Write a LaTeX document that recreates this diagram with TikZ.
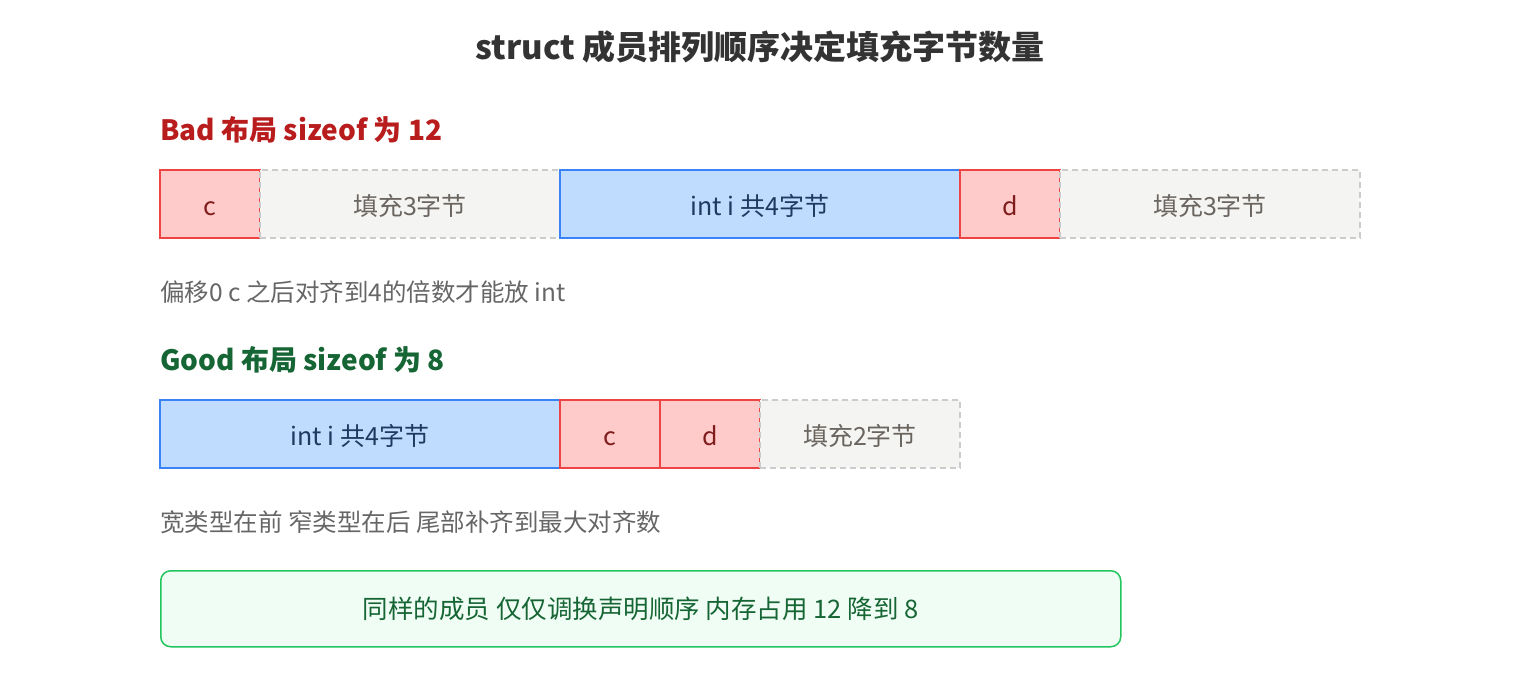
\documentclass[tikz,border=0pt]{standalone}
\usepackage{fontspec}
\setmainfont{Noto Sans CJK SC}
\usetikzlibrary{positioning}
\definecolor{redfill}{HTML}{FECACA}
\definecolor{redline}{HTML}{EF4444}
\definecolor{redtext}{HTML}{7F1D1D}
\definecolor{bluefill}{HTML}{BFDBFE}
\definecolor{blueline}{HTML}{3B82F6}
\definecolor{bluetext}{HTML}{1E3A5F}
\definecolor{padfill}{HTML}{F4F4F2}
\definecolor{padline}{HTML}{CCCCCC}
\definecolor{padtext}{HTML}{6B6560}
\definecolor{badhead}{HTML}{B91C1C}
\definecolor{goodhead}{HTML}{166534}
\definecolor{notefill}{HTML}{F0FDF4}
\definecolor{noteline}{HTML}{22C55E}
\definecolor{greytext}{HTML}{666666}
\tikzset{
  cell/.style={rectangle, minimum height=68pt, outer sep=0pt, inner sep=0pt, text height=24pt, text depth=2pt, line width=1.5pt, font=\fontsize{25}{29}\selectfont},
  charcell/.style={cell, draw=redline, fill=redfill, text=redtext, minimum width=100pt},
  intcell/.style={cell, draw=blueline, fill=bluefill, text=bluetext, minimum width=400pt},
  padcell/.style={cell, draw=padline, fill=padfill, text=padtext, dashed, dash pattern=on 6pt off 4pt},
  heading/.style={anchor=west, inner sep=0pt, font=\fontsize{28}{32}\selectfont\bfseries},
  remark/.style={anchor=west, inner sep=0pt, text=greytext, font=\fontsize{24.5}{28}\selectfont}
}
\begin{document}
\begin{tikzpicture}[x=1pt, y=-1pt]
    \useasboundingbox (0,0) rectangle (1520,680);
    %% Title
    \node[font=\fontsize{33}{38}\selectfont\bfseries, text=black!80] (title) at (760,47) {struct 成员排列顺序决定填充字节数量};

    %% Bad layout
    \node[heading, text=badhead] (badhead) at (160,130) {Bad 布局 sizeof 为 12};
    \node[charcell, anchor=north west] (bc) at (160,170) {c};
    \node[padcell, minimum width=300pt, right=0pt of bc] (bp1) {填充3字节};
    \node[intcell, right=0pt of bp1] (bi) {int i 共4字节};
    \node[charcell, right=0pt of bi] (bd) {d};
    \node[padcell, minimum width=300pt, right=0pt of bd] (bp2) {填充3字节};
    \node[remark] (badnote) at (160,292) {偏移0 c 之后对齐到4的倍数才能放 int};

    %% Good layout
    \node[heading, text=goodhead] (goodhead) at (160,360) {Good 布局 sizeof 为 8};
    \node[intcell, anchor=north west] (gi) at (160,400) {int i 共4字节};
    \node[charcell, right=0pt of gi] (gc) {c};
    \node[charcell, right=0pt of gc] (gd) {d};
    \node[padcell, minimum width=200pt, right=0pt of gd] (gp) {填充2字节};
    \node[remark] (goodnote) at (160,522) {宽类型在前 窄类型在后 尾部补齐到最大对齐数};

    %% Summary
    \node[rectangle, rounded corners=10pt, draw=noteline, fill=notefill, line width=1.5pt, minimum width=960pt, minimum height=76pt, anchor=north west, text=goodhead, font=\fontsize{25.5}{30}\selectfont] (summary) at (160,570) {同样的成员 仅仅调换声明顺序 内存占用 12 降到 8};
\end{tikzpicture}
\end{document}
